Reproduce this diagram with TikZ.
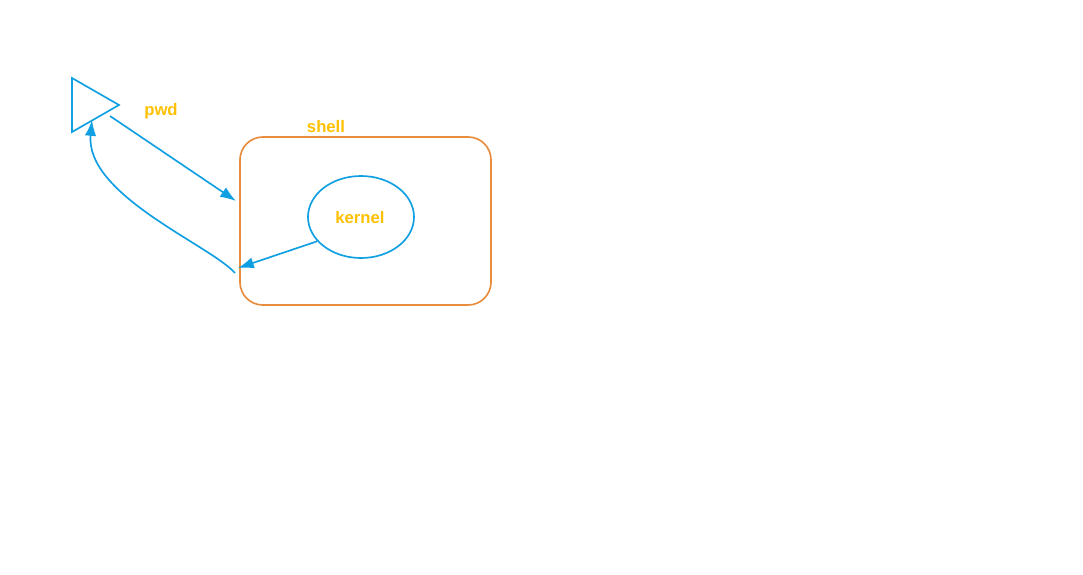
\documentclass[tikz,border=0pt]{standalone}
\usepackage{fontspec}
\setmainfont{Liberation Sans}
\usepackage{tikz}
\usetikzlibrary{shapes,arrows.meta,positioning,calc}
\definecolor{linkBlue}{RGB}{16,160,226}
\definecolor{shellOrange}{RGB}{232,140,62}
\definecolor{labelGold}{RGB}{255,192,0}

\tikzset{
  lbl/.style={text=labelGold, font=\bfseries\fontsize{9.5}{11}\selectfont, inner sep=0pt},
  link/.style={draw=linkBlue, line width=0.95pt, -{Latex[length=9pt,width=6.5pt]}},
}

\begin{document}
\begin{tikzpicture}[x=0.02cm, y=-0.02cm]
    % Canvas
    \useasboundingbox (0,0) rectangle (1083,575);

    % Terminal triangle
    \coordinate (tri top) at (72,78);
    \coordinate (tri bot) at (72,132);
    \coordinate (tri tip) at (119,105);
    \draw[linkBlue, line width=0.95pt] (tri top) -- (tri tip) -- (tri bot) -- cycle;
    \coordinate (tri out) at (110,116);
    \coordinate (tri in) at (92,120);
    \node[lbl] (pwd) at (161,111) {pwd};

    % Shell box
    \node[draw=shellOrange, line width=0.95pt, rounded corners=13pt,
          minimum width=251*0.02cm, minimum height=168*0.02cm] (shell) at (365.5,221) {};
    \node[lbl] (shell label) at (326,127) {shell};
    \coordinate (shell in) at (236,201);
    \coordinate (shell out) at (238,268);
    \coordinate (shell back) at (235,273);

    % Kernel
    \node[ellipse, draw=linkBlue, line width=0.95pt,
          minimum width=106*0.02cm, minimum height=82*0.02cm] (kernel) at (361,217) {};
    \node[lbl] (kernel label) at (360,218) {kernel};

    % Connectors
    \draw[link] (tri out) -- (shell in);
    \draw[link] (kernel.-151) -- (shell out);
    \draw[link] (shell back) .. controls (210,245) and (85,195) .. (tri in);

\end{tikzpicture}
\end{document}
